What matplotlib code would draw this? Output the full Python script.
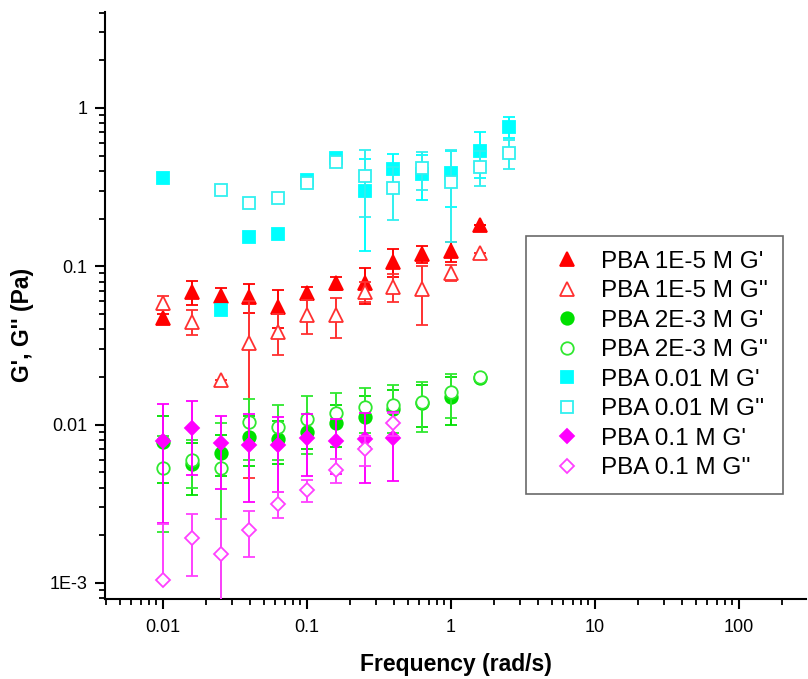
import numpy as np
import matplotlib
matplotlib.use("Agg")
import matplotlib.pyplot as plt
from matplotlib.lines import Line2D
from matplotlib.ticker import FixedLocator, FixedFormatter, LogLocator, NullFormatter

plt.rcParams['font.family'] = ['Liberation Sans', 'DejaVu Sans']

nan = np.nan
freq = [0.01, 0.0158, 0.0251, 0.0398, 0.0631, 0.1, 0.158, 0.251, 0.398, 0.631, 1.0, 1.58, 2.51]

# PBA 1E-5 M
g1_p  = [0.047, 0.069, 0.065, 0.064, 0.0556, 0.068, 0.078, 0.078, 0.107, 0.120, 0.124, 0.182, nan]
g1_pe = [0.003, 0.012, 0.008, 0.013, 0.015, 0.006, 0.007, 0.020, 0.022, 0.015, 0.018, 0.0, 0.0]
g1_pp = [0.059, 0.0447, 0.0191, 0.0326, 0.0386, 0.0492, 0.0492, 0.0691, 0.0743, 0.0716, 0.0911, 0.122, nan]
g1_ppe = [0.006, 0.008, 0.0, 0.028, 0.011, 0.012, 0.014, 0.010, 0.015, 0.029, 0.010, 0.0, 0.0]

# PBA 2E-3 M
g2_p  = [0.0078, 0.0056, 0.00665, 0.0084, 0.0081, 0.0090, 0.0102, 0.0112, 0.0125, 0.0137, 0.0150, 0.0196, nan]
g2_pe = [0.0035, 0.0020, 0.0019, 0.0029, 0.0025, 0.0020, 0.0030, 0.0040, 0.0040, 0.0040, 0.0050, 0.0008, 0.0]
g2_pp = [0.0053, 0.0060, 0.00535, 0.0103, 0.0096, 0.0108, 0.0118, 0.0129, 0.0133, 0.0138, 0.0160, 0.0200, nan]
g2_ppe = [0.0032, 0.0020, 0.0048, 0.0043, 0.0036, 0.0043, 0.0040, 0.0040, 0.0045, 0.0048, 0.0050, 0.0008, 0.0]

# PBA 0.01 M
g3_p  = [0.363, nan, 0.053, 0.152, 0.161, 0.350, 0.481, 0.299, 0.412, 0.383, 0.387, 0.535, 0.762]
g3_pe = [0.0, 0.0, 0.0, 0.0, 0.0, 0.02, 0.02, 0.174, 0.100, 0.120, 0.150, 0.173, 0.112]
g3_pp = [nan, nan, 0.303, 0.250, 0.271, 0.334, 0.458, 0.372, 0.311, 0.416, 0.342, 0.426, 0.517]
g3_ppe = [0.0, 0.0, 0.0, 0.0, 0.0, 0.01, 0.01, 0.167, 0.115, 0.114, 0.200, 0.106, 0.107]

# PBA 0.1 M
g4_p  = [0.0079, 0.00947, 0.0076, 0.00743, 0.00743, 0.0082, 0.0079, 0.0081, 0.0082, nan, nan, nan, nan]
g4_pe = [0.0055, 0.0047, 0.0037, 0.0042, 0.0037, 0.0035, 0.0030, 0.0038, 0.0038, 0.0, 0.0, 0.0, 0.0]
g4_pp = [0.00104, 0.00191, 0.00152, 0.00216, 0.00316, 0.00386, 0.00516, 0.00698, 0.0102, nan, nan, nan, nan]
g4_ppe_lo = [0.0, 0.0008, 0.0010, 0.0007, 0.0006, 0.0006, 0.0009, 0.0015, 0.0017, 0.0, 0.0, 0.0, 0.0]
g4_ppe_hi = [0.0013, 0.0008, 0.0010, 0.0007, 0.0006, 0.0006, 0.0009, 0.0015, 0.0017, 0.0, 0.0, 0.0, 0.0]

labels = ["PBA 1E-5 M G'", "PBA 1E-5 M G''", "PBA 2E-3 M G'", "PBA 2E-3 M G''",
          "PBA 0.01 M G'", "PBA 0.01 M G''", "PBA 0.1 M G'", "PBA 0.1 M G''"]

series = [
    (g1_p, (g1_pe, g1_pe), '^', '#ff0000', True, 10),
    (g1_pp, (g1_ppe, g1_ppe), '^', '#ff3030', False, 10),
    (g2_p, (g2_pe, g2_pe), 'o', '#00e000', True, 9),
    (g2_pp, (g2_ppe, g2_ppe), 'o', '#30e830', False, 9),
    (g3_p, (g3_pe, g3_pe), 's', '#00ffff', True, 8),
    (g3_pp, (g3_ppe, g3_ppe), 's', '#30f0f0', False, 8),
    (g4_p, (g4_pe, g4_pe), 'D', '#ff00ff', True, 7.3),
    (g4_pp, (g4_ppe_lo, g4_ppe_hi), 'D', '#ff40ff', False, 7.3),
]

fig = plt.figure(figsize=(8.08, 6.79), dpi=100)
ax = fig.add_axes([105/808, 80/679, 701/808, 587/679])

handles = []
for i, (y, (elo, ehi), m, c, filled, ms) in enumerate(series):
    y = np.array(y, dtype=float)
    elo = np.array(elo, dtype=float)
    ehi = np.array(ehi, dtype=float)
    x = np.array(freq)
    ok = ~np.isnan(y)
    ax.errorbar(x[ok], y[ok], yerr=[elo[ok], ehi[ok]], fmt=m, ms=ms,
                mfc=c if filled else 'white', mec=c, mew=1.3,
                ecolor=c, elinewidth=1.4, capsize=4, capthick=1.4,
                zorder=2 + i)
    handles.append(Line2D([], [], linestyle='none', marker=m, ms=ms,
                          mfc=c if filled else 'white', mec=c, mew=1.3))

ax.set_xscale('log')
ax.set_yscale('log')
ax.set_xlim(0.00395, 292)
ax.set_ylim(7.9e-4, 4.04)

for s in ['top', 'right']:
    ax.spines[s].set_visible(False)
for s in ['left', 'bottom']:
    ax.spines[s].set_linewidth(1.5)

ax.xaxis.set_major_locator(FixedLocator([0.01, 0.1, 1, 10, 100]))
ax.xaxis.set_major_formatter(FixedFormatter(['0.01', '0.1', '1', '10', '100']))
ax.xaxis.set_minor_locator(LogLocator(base=10, subs=np.arange(2, 10)))
ax.xaxis.set_minor_formatter(NullFormatter())
ax.yaxis.set_major_locator(FixedLocator([1e-3, 0.01, 0.1, 1]))
ax.yaxis.set_major_formatter(FixedFormatter(['1E-3', '0.01', '0.1', '1']))
ax.yaxis.set_minor_locator(LogLocator(base=10, subs=np.arange(2, 10)))
ax.yaxis.set_minor_formatter(NullFormatter())

ax.tick_params(which='major', direction='out', length=7.5, width=1.5, labelsize=13)
ax.tick_params(axis='x', which='major', pad=7)
ax.tick_params(axis='y', which='major', pad=5)
ax.tick_params(which='minor', direction='out', length=4, width=1.3)

ax.set_xlabel('Frequency (rad/s)', fontsize=16.5, fontweight='bold')
ax.xaxis.set_label_coords(0.5, -(665 - 599) / 587, transform=ax.transAxes)
ax.xaxis.label.set_va('center')
ax.set_ylabel("G', G'' (Pa)", fontsize=16.5, fontweight='bold')
ax.yaxis.set_label_coords(-(105 - 23) / 701, (599 - 325) / 587, transform=ax.transAxes)
ax.yaxis.label.set_va('center')

leg = ax.legend(handles=handles, labels=labels, loc='upper left',
                bbox_to_anchor=((526 - 105) / 701, (599 - 236) / 587),
                fontsize=17.5, frameon=True, fancybox=False, handlelength=2.2,
                handletextpad=0.3, labelspacing=0.31, borderpad=0.6,
                borderaxespad=0, numpoints=1)
leg.get_frame().set_edgecolor('#444444')
leg.get_frame().set_linewidth(1.2)

fig.savefig('out.png', dpi=100)
